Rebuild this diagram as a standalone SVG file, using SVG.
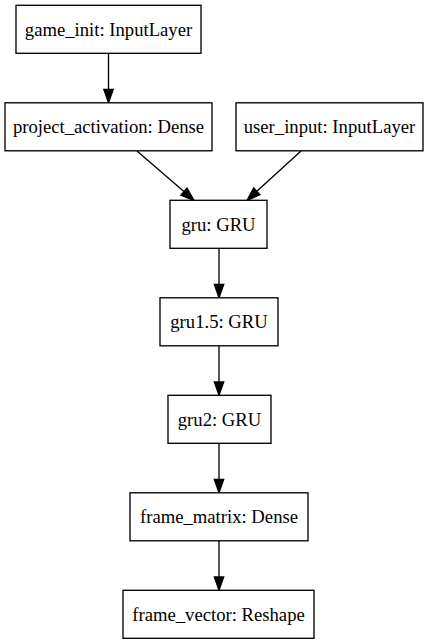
<svg xmlns="http://www.w3.org/2000/svg" width="429" height="644" viewBox="0 0 429 644">
<style>
.box{fill:#fff;stroke:#000;stroke-width:1.33}
.lbl{font-family:"Liberation Serif","Times New Roman",serif;font-size:18.67px;text-anchor:middle;fill:#000}
.edge{stroke:#000;stroke-width:1.33;fill:none}
</style>
<defs>
<marker id="arr" markerUnits="userSpaceOnUse" markerWidth="14" markerHeight="10" refX="0" refY="4.67" orient="auto" overflow="visible">
<path d="M0,0 L13.33,4.67 L0,9.33 Z" fill="#000" stroke="#000" stroke-width="1.33"/>
</marker>
</defs>
<rect width="429" height="644" fill="#fff"/>
<g id="connectors">
<line class="edge" x1="108.5" y1="53.3" x2="108.5" y2="89.5" marker-end="url(#arr)"/>
<line class="edge" x1="137" y1="151.1" x2="183.9" y2="191.6" marker-end="url(#arr)"/>
<line class="edge" x1="301" y1="151.1" x2="256.85" y2="191.3" marker-end="url(#arr)"/>
<line class="edge" x1="219" y1="248.3" x2="219" y2="284.5" marker-end="url(#arr)"/>
<line class="edge" x1="219" y1="345.8" x2="219" y2="382" marker-end="url(#arr)"/>
<line class="edge" x1="219" y1="443.3" x2="219" y2="479.5" marker-end="url(#arr)"/>
<line class="edge" x1="219" y1="540.8" x2="219" y2="577" marker-end="url(#arr)"/>
</g>
<g id="game_init">
<rect class="box" x="16" y="5.3" width="185" height="48"/>
<text class="lbl" x="108.5" y="35.6">game_init: InputLayer</text>
</g>
<g id="project_activation">
<rect class="box" x="5" y="102.8" width="207" height="48"/>
<text class="lbl" x="108.5" y="133.1">project_activation: Dense</text>
</g>
<g id="user_input">
<rect class="box" x="236" y="102.8" width="187" height="48"/>
<text class="lbl" x="329.5" y="133.1">user_input: InputLayer</text>
</g>
<g id="gru">
<rect class="box" x="170" y="200.3" width="97" height="48"/>
<text class="lbl" x="218.5" y="230.6">gru: GRU</text>
</g>
<g id="gru1_5">
<rect class="box" x="160" y="297.8" width="118" height="48"/>
<text class="lbl" x="219" y="328.1">gru1.5: GRU</text>
</g>
<g id="gru2">
<rect class="box" x="168" y="395.3" width="103" height="48"/>
<text class="lbl" x="219.5" y="425.6">gru2: GRU</text>
</g>
<g id="frame_matrix">
<rect class="box" x="130" y="492.8" width="178" height="48"/>
<text class="lbl" x="219" y="523.1">frame_matrix: Dense</text>
</g>
<g id="frame_vector">
<rect class="box" x="123" y="590.3" width="191" height="48"/>
<text class="lbl" x="218.5" y="620.6">frame_vector: Reshape</text>
</g>
</svg>
